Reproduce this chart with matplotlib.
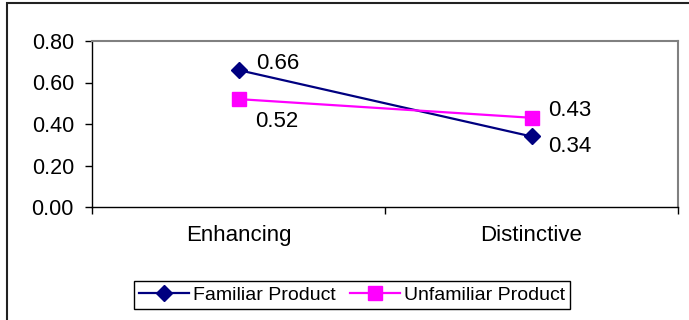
import matplotlib
matplotlib.use('Agg')
import matplotlib.pyplot as plt
from matplotlib.patches import Rectangle

plt.rcParams['font.family'] = ['Liberation Sans', 'DejaVu Sans']

# Chart data
categories = ['Enhancing', 'Distinctive']
familiar = [0.66, 0.34]
unfamiliar = [0.52, 0.43]
y_ticks = [0.0, 0.2, 0.4, 0.6, 0.8]

W, H = 689, 320
fig = plt.figure(figsize=(W / 100, H / 100), dpi=100)

# outer chart border (right and bottom run off the picture)
fig.patches.append(Rectangle((7 / W, -0.05), 1.05, 1 - 3 / H + 0.05, transform=fig.transFigure,
                             fill=False, edgecolor='#222222', linewidth=1.5))

ax = fig.add_axes([92 / W, (H - 207) / H, 586 / W, 166 / H])
x = list(range(len(categories)))

ax.plot(x, familiar, color='#000080', linewidth=1.6, marker='D', markersize=8,
        label='Familiar Product', zorder=3)
ax.plot(x, unfamiliar, color='#FF00FF', linewidth=1.6, marker='s', markersize=10,
        label='Unfamiliar Product', zorder=3)

# value labels
fs = 16
ax.annotate(f'{familiar[0]:.2f}', (x[0], familiar[0]), xytext=(13, 5), textcoords='offset points',
            ha='left', va='center', fontsize=fs)
ax.annotate(f'{unfamiliar[0]:.2f}', (x[0], unfamiliar[0]), xytext=(12, -16), textcoords='offset points',
            ha='left', va='center', fontsize=fs)
ax.annotate(f'{unfamiliar[1]:.2f}', (x[1], unfamiliar[1]), xytext=(12, 5), textcoords='offset points',
            ha='left', va='center', fontsize=fs)
ax.annotate(f'{familiar[1]:.2f}', (x[1], familiar[1]), xytext=(12, -7), textcoords='offset points',
            ha='left', va='center', fontsize=fs)

ax.set_xlim(-0.5, len(categories) - 0.5)
ax.set_ylim(0, 0.8)
ax.set_yticks(y_ticks)
ax.set_yticklabels([f'{v:.2f}' for v in y_ticks], fontsize=15.5)
ax.set_xticks(x)
ax.set_xticklabels(categories, fontsize=fs)
ax.set_xticks([i - 0.5 for i in range(len(categories) + 1)], minor=True)
ax.tick_params(axis='x', which='major', length=0, pad=13)
ax.tick_params(axis='x', which='minor', length=5, width=1, direction='out')
ax.tick_params(axis='y', length=5, width=1, direction='out', pad=8)

for side in ['top', 'right']:
    ax.spines[side].set_color('#808080')
    ax.spines[side].set_linewidth(1.5)
for side in ['left', 'bottom']:
    ax.spines[side].set_color('black')
    ax.spines[side].set_linewidth(1.0)

fig.legend(loc='center', bbox_to_anchor=(352 / W, 1 - 295 / H), ncol=2, fontsize=14,
           frameon=True, fancybox=False, edgecolor='black', framealpha=1,
           handlelength=2.6, handletextpad=0.2, columnspacing=0.7, borderpad=0.25,
           borderaxespad=0)

fig.savefig('out.png', dpi=100)
